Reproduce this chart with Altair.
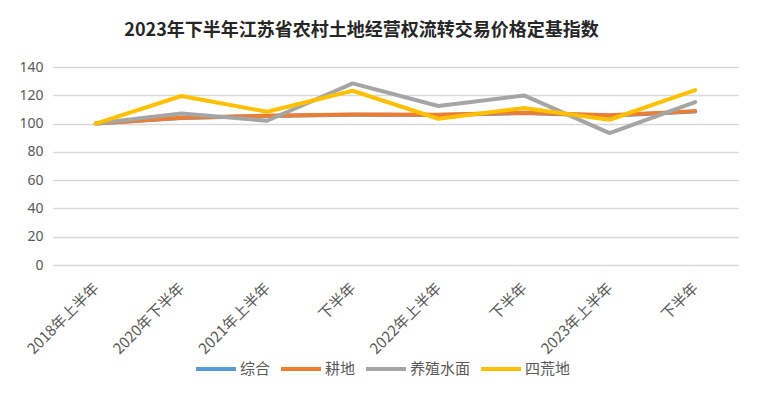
import altair as alt
import pandas as pd

title_text = "2023年下半年江苏省农村土地经营权流转交易价格定基指数"
categories = ["2018年上半年", "2020年下半年", "2021年上半年", "下半年",
              "2022年上半年", "下半年", "2023年上半年", "下半年"]
series_names = ["综合", "耕地", "养殖水面", "四荒地"]
colors = ["#5B9BD5", "#ED7D31", "#A5A5A5", "#FFC000"]

zonghe = [100, 104.0, 105.3, 106.3, 106.0, 107.4, 105.6, 108.6]
gengdi = [100, 104.1, 105.5, 106.5, 106.2, 107.7, 105.8, 108.8]
yangzhi = [100, 107.2, 102.0, 128.4, 112.4, 119.9, 93.3, 115.2]
sihuang = [100, 119.5, 108.4, 123.2, 103.4, 111.0, 102.7, 123.7]

values = [zonghe, gengdi, yangzhi, sihuang]
rows = []
for s, vals in zip(series_names, values):
    for i, v in enumerate(vals):
        rows.append({"idx": i, "series": s, "value": v})
df = pd.DataFrame(rows)

label_array = "[" + ",".join("'" + c + "'" for c in categories) + "]"

chart = alt.Chart(df).mark_line(strokeWidth=4, strokeCap="round", strokeJoin="round").encode(
    x=alt.X("idx:O", title=None,
            axis=alt.Axis(labelExpr=label_array + "[datum.value]", labelAngle=-45,
                          labelAlign="right", labelBaseline="middle",
                          labelFont="Noto Sans CJK SC", labelFontSize=15,
                          labelColor="#595959", labelPadding=20,
                          ticks=False, domain=False, grid=False)),
    y=alt.Y("value:Q", title=None,
            scale=alt.Scale(domain=[0, 140], nice=False),
            axis=alt.Axis(values=[0, 20, 40, 60, 80, 100, 120, 140],
                          labelFont="Noto Sans", labelFontSize=14,
                          labelColor="#595959", labelPadding=10,
                          ticks=False, domain=False,
                          gridColor="#D9D9D9", gridWidth=1.3)),
    color=alt.Color("series:N", sort=series_names,
                    scale=alt.Scale(domain=series_names, range=colors),
                    legend=alt.Legend(title=None, orient="none", direction="horizontal",
                                      legendX=141, legendY=280,
                                      symbolType="stroke", symbolSize=1600,
                                      symbolStrokeWidth=4, labelOffset=2,
                                      columnPadding=2,
                                      labelFont="Noto Sans CJK SC", labelFontSize=15,
                                      labelColor="#595959")),
).properties(
    width=685, height=198,
    title=alt.TitleParams(title_text, font="Noto Sans CJK SC", fontSize=18,
                          fontWeight="bold", color="#262626", anchor="middle",
                          dx=-34, offset=20),
    autosize=alt.AutoSizeParams(type="none"),
    padding={"left": 45, "top": 59, "right": 16, "bottom": 116},
).configure_view(stroke=None)

chart.save("out.html", embed_options={"renderer": "svg", "actions": False})
